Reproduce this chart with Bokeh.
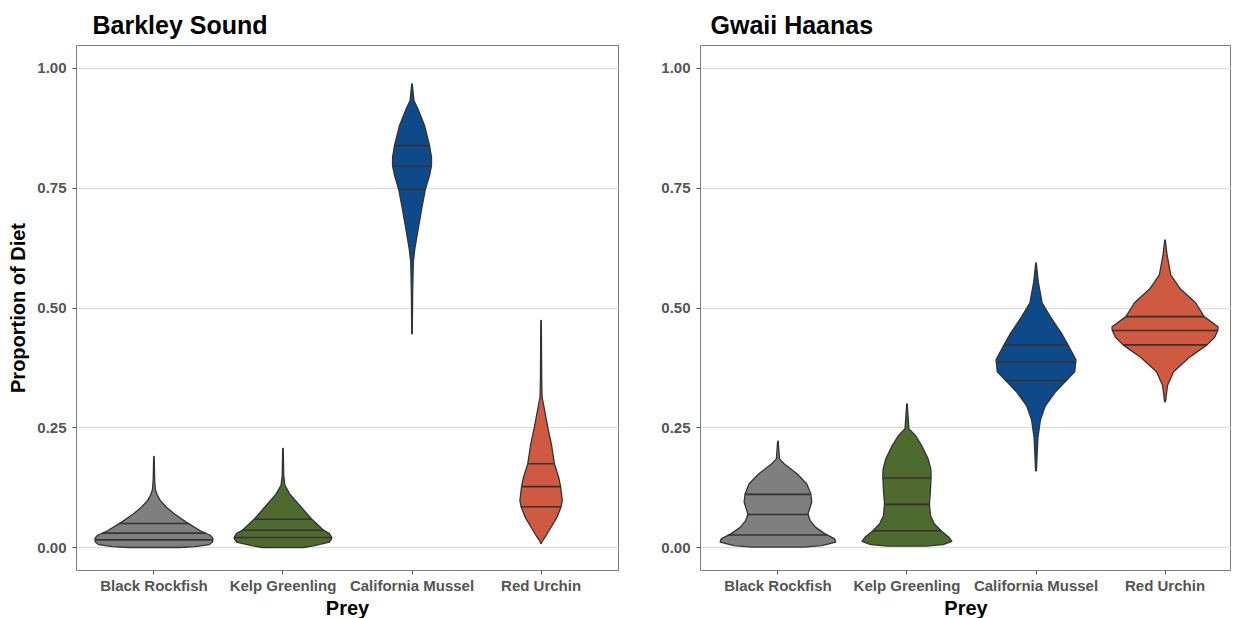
import numpy as np
from bokeh.plotting import figure
from bokeh.layouts import row
from bokeh.models import FixedTicker, Range1d, NumeralTickFormatter
from bokeh.embed import file_html
from bokeh.resources import INLINE

# ---------------- data ----------------
categories = ["Black Rockfish", "Kelp Greenling", "California Mussel", "Red Urchin"]
colors = ["#7f7f7f", "#4e6a2e", "#0e4a8a", "#cf5a41"]
panel_titles = ["Barkley Sound", "Gwaii Haanas"]

# Barkley Sound violin profiles: proportion values and half-widths (category units)
bs_rockfish_y = [0.000, 0.002, 0.006, 0.012, 0.019, 0.025, 0.035, 0.053, 0.070, 0.084, 0.098, 0.110, 0.120, 0.140, 0.190]
bs_rockfish_w = [0.20, 0.32, 0.43, 0.455, 0.457, 0.44, 0.36, 0.25, 0.16, 0.097, 0.05, 0.025, 0.012, 0.006, 0.002]
bs_greenling_y = [0.000, 0.004, 0.011, 0.020, 0.029, 0.037, 0.060, 0.084, 0.112, 0.130, 0.150, 0.207]
bs_greenling_w = [0.16, 0.245, 0.36, 0.38, 0.36, 0.31, 0.22, 0.142, 0.052, 0.015, 0.006, 0.002]
bs_mussel_y = [0.446, 0.533, 0.596, 0.624, 0.665, 0.707, 0.747, 0.777, 0.797, 0.815, 0.839, 0.881, 0.916, 0.933, 0.968]
bs_mussel_w = [0.002, 0.005, 0.010, 0.022, 0.048, 0.075, 0.103, 0.136, 0.151, 0.151, 0.136, 0.097, 0.045, 0.015, 0.002]
bs_urchin_y = [0.008, 0.011, 0.022, 0.035, 0.063, 0.084, 0.098, 0.128, 0.147, 0.175, 0.216, 0.251, 0.286, 0.314, 0.350, 0.474]
bs_urchin_w = [0.002, 0.005, 0.032, 0.061, 0.123, 0.154, 0.164, 0.151, 0.136, 0.103, 0.08, 0.052, 0.028, 0.008, 0.005, 0.002]
bs_quartiles = [[0.016, 0.030, 0.050], [0.021, 0.036, 0.059], [0.747, 0.796, 0.839], [0.085, 0.127, 0.175]]

# Gwaii Haanas violin profiles
gh_rockfish_y = [0.001, 0.004, 0.011, 0.018, 0.029, 0.042, 0.056, 0.070, 0.095, 0.113, 0.133, 0.154, 0.175, 0.185, 0.222]
gh_rockfish_w = [0.20, 0.34, 0.448, 0.44, 0.362, 0.293, 0.25, 0.233, 0.262, 0.254, 0.223, 0.148, 0.048, 0.012, 0.002]
gh_greenling_y = [0.003, 0.006, 0.013, 0.022, 0.035, 0.049, 0.067, 0.091, 0.115, 0.148, 0.164, 0.185, 0.213, 0.234, 0.248, 0.300]
gh_greenling_w = [0.15, 0.28, 0.349, 0.323, 0.264, 0.213, 0.182, 0.174, 0.181, 0.187, 0.185, 0.164, 0.114, 0.065, 0.015, 0.002]
gh_mussel_y = [0.160, 0.230, 0.266, 0.295, 0.324, 0.349, 0.367, 0.392, 0.423, 0.446, 0.482, 0.511, 0.554, 0.594]
gh_mussel_w = [0.003, 0.015, 0.034, 0.071, 0.148, 0.237, 0.30, 0.31, 0.248, 0.20, 0.111, 0.047, 0.018, 0.002]
gh_urchin_y = [0.304, 0.338, 0.367, 0.396, 0.423, 0.439, 0.454, 0.461, 0.482, 0.511, 0.540, 0.569, 0.612, 0.642]
gh_urchin_w = [0.003, 0.019, 0.066, 0.185, 0.325, 0.385, 0.41, 0.411, 0.303, 0.237, 0.118, 0.044, 0.015, 0.002]
gh_quartiles = [[0.026, 0.069, 0.111], [0.035, 0.090, 0.145], [0.349, 0.387, 0.423], [0.423, 0.453, 0.482]]

y_ticks = [0.0, 0.25, 0.5, 0.75, 1.0]

FONT = "Liberation Sans"


def make_panel(title, profiles, quartiles, ylabel, frame_w, x_end, b_left, b_right, title_offset):
    p = figure(frame_width=frame_w, frame_height=525,
               x_range=Range1d(0.4, x_end), y_range=Range1d(-0.048, 1.048),
               output_backend="svg", toolbar_location=None,
               min_border_left=b_left, min_border_right=b_right,
               min_border_top=45, min_border_bottom=30)
    p.title.text = title
    p.title.text_font = FONT
    p.title.text_font_size = "25px"
    p.title.text_font_style = "bold"
    p.title.text_color = "black"
    p.title.align = "left"
    p.title.offset = title_offset
    p.title.standoff = 14

    p.background_fill_color = "white"
    p.border_fill_color = "white"
    p.outline_line_color = "#7f7f7f"
    p.outline_line_width = 1

    p.xgrid.visible = False
    p.ygrid.grid_line_color = "#dcdcdc"
    p.ygrid.grid_line_width = 1
    p.ygrid.ticker = FixedTicker(ticks=y_ticks)

    p.yaxis.ticker = FixedTicker(ticks=y_ticks)
    p.yaxis.formatter = NumeralTickFormatter(format="0.00")
    p.xaxis.ticker = FixedTicker(ticks=[1, 2, 3, 4])
    p.xaxis.major_label_overrides = {i + 1: c for i, c in enumerate(categories)}

    for ax in (p.xaxis, p.yaxis):
        ax.axis_line_color = None
        ax.major_tick_in = 0
        ax.major_tick_out = 4
        ax.major_tick_line_color = "#555555"
        ax.minor_tick_line_color = None
        ax.major_label_text_font = FONT
        ax.major_label_text_font_size = "15px"
        ax.major_label_text_font_style = "bold"
        ax.major_label_text_color = "#555555"
        ax.axis_label_text_font = FONT
        ax.axis_label_text_font_size = "20px"
        ax.axis_label_text_font_style = "bold"
        ax.axis_label_text_color = "black"
    p.xaxis.major_label_standoff = 2
    p.xaxis.axis_label_standoff = 0
    p.xaxis.axis_label = "Prey"
    p.yaxis.major_label_standoff = 6
    if ylabel:
        p.yaxis.axis_label = ylabel
        p.yaxis.axis_label_standoff = 5

    for i, ((ys, ws), q, col) in enumerate(zip(profiles, quartiles, colors)):
        cx = i + 1
        ys = np.asarray(ys, float)
        ws = np.asarray(ws, float)
        xs = np.concatenate([cx + ws, (cx - ws)[::-1]])
        yy = np.concatenate([ys, ys[::-1]])
        p.patch(xs, yy, fill_color=col, line_color="#333333", line_width=1.3)
        qw = np.interp(q, ys, ws)
        p.segment(x0=cx - qw, y0=q, x1=cx + qw, y1=q, line_color="#333333", line_width=1.6)
    return p


bs_profiles = [(bs_rockfish_y, bs_rockfish_w), (bs_greenling_y, bs_greenling_w),
               (bs_mussel_y, bs_mussel_w), (bs_urchin_y, bs_urchin_w)]
gh_profiles = [(gh_rockfish_y, gh_rockfish_w), (gh_greenling_y, gh_greenling_w),
               (gh_mussel_y, gh_mussel_w), (gh_urchin_y, gh_urchin_w)]

p1 = make_panel(panel_titles[0], bs_profiles, bs_quartiles, "Proportion of Diet", 542, 4.6, 76, 20, 16)
p2 = make_panel(panel_titles[1], gh_profiles, gh_quartiles, None, 531, 4.515, 62, 0, 10)

layout = row(p1, p2)
open("out.html", "w").write(file_html(layout, INLINE))
